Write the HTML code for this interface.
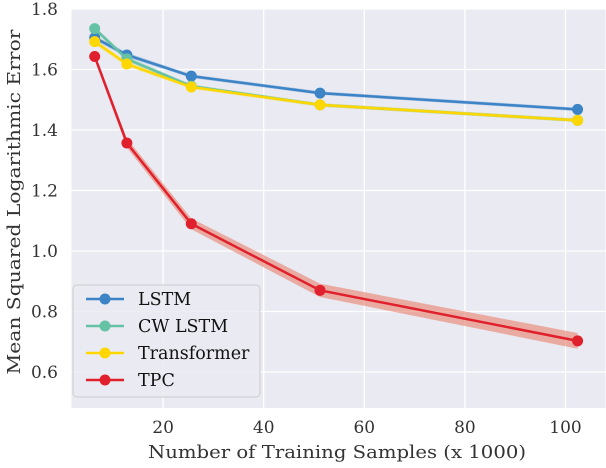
<!DOCTYPE html>
<html><head><meta charset="utf-8"><style>
body{margin:0;background:#fff}
svg text{font-family:"DejaVu Serif","Liberation Serif",serif;fill:#333}
</style></head><body>
<svg width="606" height="463" id="svg">
<rect x="71.5" y="9" width="534" height="399" fill="#eaeaf2"/>
<g id="grid"></g><g id="bands"></g><g id="lines"></g><g id="ticks"></g>
<text x="337" y="458" text-anchor="middle" font-size="18" textLength="378" lengthAdjust="spacingAndGlyphs">Number of Training Samples (x 1000)</text>
<text transform="translate(20,202) rotate(-90)" text-anchor="middle" font-size="18" textLength="345" lengthAdjust="spacingAndGlyphs">Mean Squared Logarithmic Error</text>
<g id="legend"></g>
</svg>
<script>
const xs=[6.4,12.8,25.6,51.2,102.4];
const seriesNames=["LSTM","CW LSTM","Transformer","TPC"];
const lstm=[1.705,1.648,1.578,1.522,1.468];
const cw=[1.735,1.635,1.545,1.483,1.432];
const trans=[1.692,1.618,1.542,1.483,1.432];
const tpc=[1.643,1.357,1.09,0.87,0.703];
const tpcErr=[0.01,0.015,0.018,0.022,0.026];
const otherErr=[0.008,0.008,0.006,0.006,0.006];
const xTicks=[20,40,60,80,100];
const yTicks=[0.6,0.8,1.0,1.2,1.4,1.6,1.8];
const colors=["#3d84c6","#66c2a5","#ffd700","#e0202c"];
const bandColors=["#3d84c6","#66c2a5","#ffd700","#e8806a"];
const X=v=>62.5+v*5.03, Y=v=>69.5+(1.6-v)*302.5;
const NS="http://www.w3.org/2000/svg";
function mk(t,a,p){const e=document.createElementNS(NS,t);for(const k in a)e.setAttribute(k,a[k]);document.getElementById(p).appendChild(e);return e;}
xTicks.forEach(t=>{const l=mk('line',{x1:X(t),x2:X(t),y1:9,y2:408,stroke:'#fff','stroke-width':1.3},'grid');

const tx=mk('text',{x:X(t),y:433,'text-anchor':'middle','font-size':17},'ticks');tx.textContent=t;
});
yTicks.forEach(t=>{const l=mk('line',{x1:71.5,x2:606,y1:Y(t),y2:Y(t),stroke:'#fff','stroke-width':1.3},'grid');

const tx=mk('text',{x:58,y:Y(t)+6,'text-anchor':'end','font-size':17},'ticks');tx.textContent=t.toFixed(1);
});
const all=[lstm,cw,trans,tpc];
all.forEach((s,i)=>{const err=i==3?tpcErr:otherErr;
const up=xs.map((x,j)=>X(x)+','+Y(s[j]+err[j])),dn=xs.map((x,j)=>X(x)+','+Y(s[j]-err[j])).reverse();
const b=mk('polygon',{points:up.concat(dn).join(' '),fill:bandColors[i],opacity:i==3?0.6:0.3},'bands');
});
all.forEach((s,i)=>{const p=mk('polyline',{points:xs.map((x,j)=>X(x)+','+Y(s[j])).join(' '),fill:'none',stroke:colors[i],'stroke-width':2.5},'lines');

xs.forEach((x,j)=>{const c=mk('circle',{cx:X(x),cy:Y(s[j]),r:5.5,fill:colors[i]},'lines');
});});
const lg=mk('rect',{x:73,y:285,width:187,height:112,rx:4,fill:'#eaeaf2','fill-opacity':0.85,stroke:'#ccc'},'legend');

seriesNames.forEach((n,i)=>{const y=299+i*27;
const l=mk('line',{x1:86,x2:124,y1:y,y2:y,stroke:colors[i],'stroke-width':2.5},'legend');

const c=mk('circle',{cx:105,cy:y,r:5.5,fill:colors[i]},'legend');

const t=mk('text',{x:138,y:y+6,'font-size':17.5,style:'fill:#111'},'legend');t.textContent=n;
});
</script>
</body></html>
